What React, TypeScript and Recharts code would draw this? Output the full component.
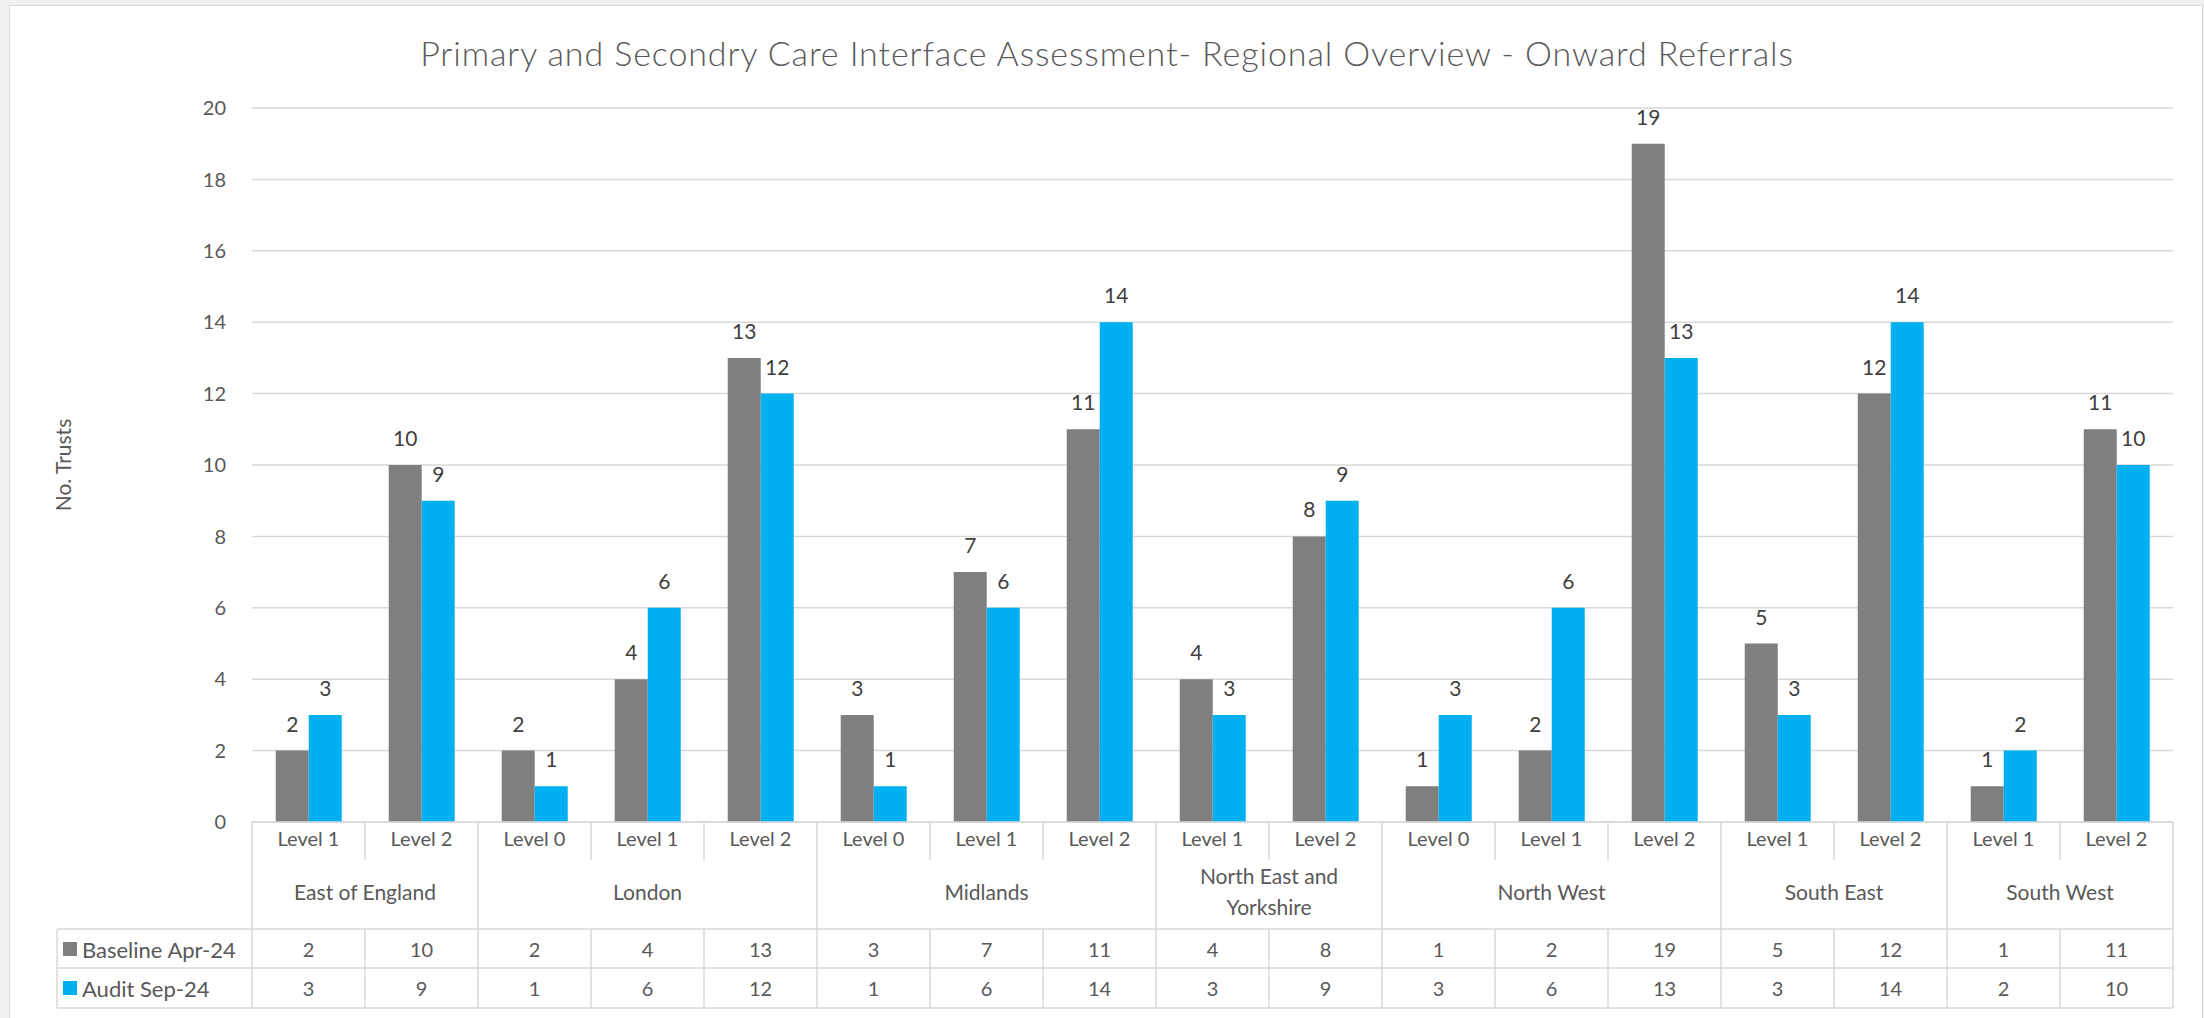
import React from "react";
import { BarChart, Bar, XAxis, YAxis, CartesianGrid, LabelList } from "recharts";

const levels = [
  "Level 1", "Level 2",
  "Level 0", "Level 1", "Level 2",
  "Level 0", "Level 1", "Level 2",
  "Level 1", "Level 2",
  "Level 0", "Level 1", "Level 2",
  "Level 1", "Level 2",
  "Level 1", "Level 2",
];
const regionNames = [
  "East of England",
  "London",
  "Midlands",
  "North East and Yorkshire",
  "North West",
  "South East",
  "South West",
];
const regionSizes = [2, 3, 3, 2, 3, 2, 2];
const baselineApr24 = [2, 10, 2, 4, 13, 3, 7, 11, 4, 8, 1, 2, 19, 5, 12, 1, 11];
const auditSep24 = [3, 9, 1, 6, 12, 1, 6, 14, 3, 9, 3, 6, 13, 3, 14, 2, 10];
const yTicks = [0, 2, 4, 6, 8, 10, 12, 14, 16, 18, 20];

const W = 2204;
const H = 1018;
const PLOT_LEFT = 252;
const PLOT_RIGHT = 2173;
const PLOT_TOP = 108;
const AXIS_Y = 822;
const Y_AXIS_W = 80;
const BAND = (PLOT_RIGHT - PLOT_LEFT) / levels.length;
const FONT = "Lato, 'Open Sans', sans-serif";
const TEXT = "#595959";
const LINE = "#d9d9d9";
const GREY = "#7f7f7f";
const BLUE = "#00b0f0";

const groupStart: number[] = [];
regionSizes.reduce((acc, n) => {
  groupStart.push(acc);
  return acc + n;
}, 0);
const regionOf = regionSizes.flatMap((n, i) => Array(n).fill(regionNames[i]));

const data = levels.map((level, i) => ({
  key: String(i),
  level,
  region: regionOf[i],
  baseline: baselineApr24[i],
  audit: auditSep24[i],
}));

function wrap(text: string, maxChars: number) {
  const words = text.split(" ");
  const lines: string[] = [];
  let cur = "";
  words.forEach((w) => {
    const next = cur ? cur + " " + w : w;
    if (next.length > maxChars && cur) {
      lines.push(cur);
      cur = w;
    } else cur = next;
  });
  if (cur) lines.push(cur);
  return lines;
}

function TableTick(props: any) {
  const { x, y, payload } = props;
  const i = Number(payload.value);
  const d = data[i];
  const left = x - BAND / 2;
  const right = x + BAND / 2;
  const r1 = y + 107;
  const r2 = y + 146;
  const r3 = y + 186;
  const g = groupStart.indexOf(i);
  const isEnd = groupStart.includes(i + 1) || i === data.length - 1;
  const t = { fontFamily: FONT, fontSize: 20, fill: TEXT, textAnchor: "middle" as const, dominantBaseline: "central" as const };
  const ln = { stroke: LINE, strokeWidth: 1.5 };

  let region = null;
  if (g >= 0) {
    const n = regionSizes[g];
    const cx = left + (n * BAND) / 2;
    const lines = wrap(regionNames[g], Math.floor((n * BAND - 20) / 10));
    const lh = 31;
    const cy = y + 69 - ((lines.length - 1) * lh) / 2;
    region = lines.map((l, k) => (
      <text key={k} x={cx} y={cy + k * lh} {...t} fontSize={21}>{l}</text>
    ));
  }

  return (
    <g>
      {i === 0 && (
        <g>
          <line x1={left} y1={y} x2={left} y2={r3} {...ln} />
          <line x1={57} y1={r1} x2={left} y2={r1} {...ln} />
          <line x1={57} y1={r2} x2={left} y2={r2} {...ln} />
          <line x1={57} y1={r3} x2={left} y2={r3} {...ln} />
          <line x1={57} y1={r1} x2={57} y2={r3} {...ln} />
          <rect x={63} y={r1 + 13} width={14} height={14} fill={GREY} />
          <text x={82} y={r1 + 20} {...t} fontSize={22} textAnchor="start">Baseline Apr-24</text>
          <rect x={63} y={r2 + 13} width={14} height={14} fill={BLUE} />
          <text x={82} y={r2 + 20} {...t} fontSize={22} textAnchor="start">Audit Sep-24</text>
        </g>
      )}
      <text x={x} y={y + 16} {...t}>{d.level}</text>
      {region}
      {isEnd ? (
        <line x1={right} y1={y} x2={right} y2={r3} {...ln} />
      ) : (
        <g>
          <line x1={right} y1={y} x2={right} y2={y + 38} {...ln} />
          <line x1={right} y1={r1} x2={right} y2={r3} {...ln} />
        </g>
      )}
      <line x1={left} y1={r1} x2={right} y2={r1} {...ln} />
      <line x1={left} y1={r2} x2={right} y2={r2} {...ln} />
      <line x1={left} y1={r3} x2={right} y2={r3} {...ln} />
      <text x={x} y={r1 + 20} {...t}>{d.baseline}</text>
      <text x={x} y={r2 + 20} {...t}>{d.audit}</text>
    </g>
  );
}

export default function App() {
  return (
    <div style={{ position: "fixed", left: 0, top: 0, width: W, height: H, background: "#f0f0f0", overflow: "hidden" }}>
      <div style={{ position: "absolute", left: 9, top: 5, width: 2192, height: 1030, background: "white", border: `1px solid ${LINE}` }} />
      <div
        style={{
          position: "absolute",
          left: 1107,
          top: 35,
          transform: "translateX(-50%)",
          whiteSpace: "nowrap",
          fontFamily: FONT,
          fontSize: 34,
          fontWeight: 300,
          letterSpacing: 0.9,
          lineHeight: "36px",
          color: TEXT,
        }}
      >
        Primary and Secondry Care Interface Assessment- Regional Overview - Onward Referrals
      </div>
      <div
        style={{
          position: "absolute",
          left: 62,
          top: 465,
          transform: "translate(-50%, -50%) rotate(-90deg)",
          whiteSpace: "nowrap",
          fontFamily: FONT,
          fontSize: 21,
          color: TEXT,
        }}
      >
        No. Trusts
      </div>
      <div style={{ position: "absolute", left: 0, top: 0 }}>
        <BarChart
          width={W}
          height={H}
          data={data}
          margin={{ top: PLOT_TOP, right: W - PLOT_RIGHT, bottom: 0, left: PLOT_LEFT - Y_AXIS_W }}
          barCategoryGap="21%"
          barGap={0}
        >
          <CartesianGrid vertical={false} stroke={LINE} strokeWidth={1.5} />
          <YAxis
            width={Y_AXIS_W}
            domain={[0, 20]}
            ticks={yTicks}
            axisLine={false}
            tickLine={false}
            tickMargin={20}
            tick={{ fontFamily: FONT, fontSize: 20, fill: TEXT }}
          />
          <XAxis
            dataKey="key"
            height={H - AXIS_Y}
            interval={0}
            tickLine={false}
            tickSize={0}
            tickMargin={0}
            axisLine={{ stroke: LINE, strokeWidth: 1.5 }}
            tick={<TableTick />}
          />
          <Bar dataKey="baseline" fill={GREY} isAnimationActive={false}>
            <LabelList dataKey="baseline" position="top" offset={19} fill="#404040" fontFamily={FONT} fontSize={21} />
          </Bar>
          <Bar dataKey="audit" fill={BLUE} isAnimationActive={false}>
            <LabelList dataKey="audit" position="top" offset={19} fill="#404040" fontFamily={FONT} fontSize={21} />
          </Bar>
        </BarChart>
      </div>
    </div>
  );
}
